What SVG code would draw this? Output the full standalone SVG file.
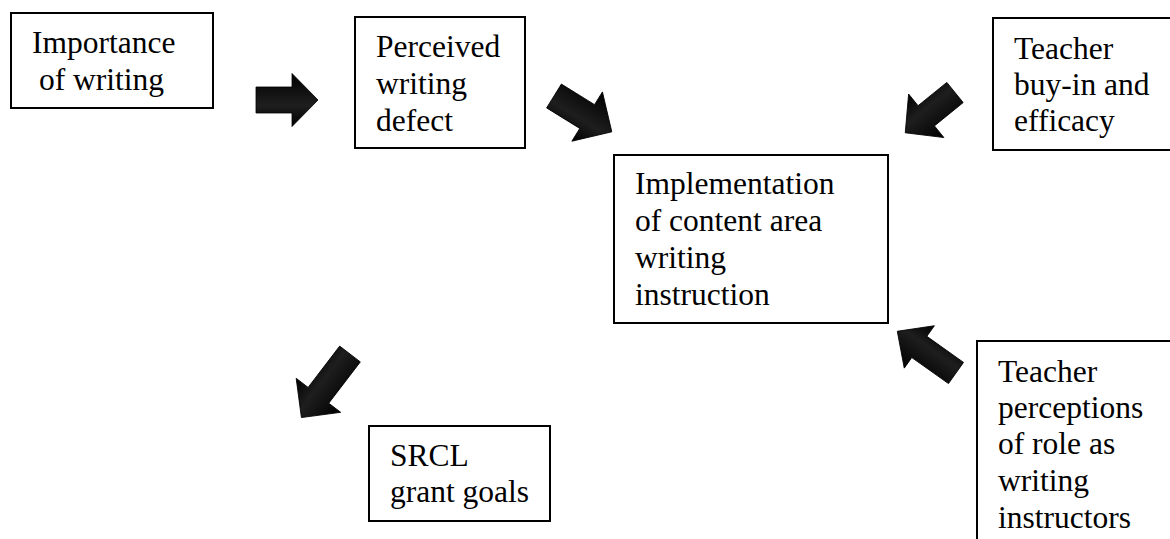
<svg xmlns="http://www.w3.org/2000/svg" width="1170" height="539" viewBox="0 0 1170 539">
<style>
.box{fill:#fff;stroke:#000;stroke-width:2}
.t{font-family:"Liberation Serif","Times New Roman",serif;font-size:31.5px;fill:#000}
.arr{fill:url(#g);stroke:#000;stroke-width:0.8}
</style>
<defs>
<linearGradient id="g" x1="0" y1="0" x2="0" y2="1">
<stop offset="0" stop-color="#000"/>
<stop offset="0.6" stop-color="#1e1e1e"/>
<stop offset="1" stop-color="#000"/>
</linearGradient>
</defs>
<rect width="1170" height="539" fill="#fff"/>
<g id="n-importance">
<rect class="box" x="11" y="13" width="202" height="95"/>
<text class="t" x="32" y="53">Importance</text>
<text class="t" x="39" y="90">of writing</text>
</g>
<g id="n-perceived">
<rect class="box" x="355" y="17" width="170" height="131"/>
<text class="t" x="376" y="57">Perceived</text>
<text class="t" x="376" y="94">writing</text>
<text class="t" x="376" y="131">defect</text>
</g>
<g id="n-implementation">
<rect class="box" x="614" y="155" width="274" height="168"/>
<text class="t" x="635" y="194">Implementation</text>
<text class="t" x="635" y="231">of content area</text>
<text class="t" x="635" y="268">writing</text>
<text class="t" x="635" y="305">instruction</text>
</g>
<g id="n-buyin">
<rect class="box" x="993" y="18" width="182" height="132"/>
<text class="t" x="1014" y="59">Teacher</text>
<text class="t" x="1014" y="95">buy-in and</text>
<text class="t" x="1014" y="131">efficacy</text>
</g>
<g id="n-perceptions">
<rect class="box" x="977" y="341" width="200" height="210"/>
<text class="t" x="998" y="382">Teacher</text>
<text class="t" x="998" y="418">perceptions</text>
<text class="t" x="998" y="454">of role as</text>
<text class="t" x="998" y="491">writing</text>
<text class="t" x="998" y="528">instructors</text>
</g>
<g id="n-srcl">
<rect class="box" x="369" y="426" width="181" height="95"/>
<text class="t" x="390" y="466">SRCL</text>
<text class="t" x="390" y="502">grant goals</text>
</g>
<g id="connectors">
<path class="arr" transform="translate(256,100)" d="M0,-13 L36,-13 L36,-26.5 L62,0 L36,26.5 L36,13 L0,13 Z"/>
<path class="arr" transform="translate(554,96) rotate(31.8)" d="M0,-14 L39,-14 L39,-29 L68,0 L39,29 L39,14 L0,14 Z"/>
<path class="arr" transform="translate(955,92.5) rotate(141)" d="M0,-13 L37,-13 L37,-28 L64,0 L37,28 L37,13 L0,13 Z"/>
<path class="arr" transform="translate(956,373) rotate(-144.6)" d="M0,-13 L45,-13 L45,-26 L72,0 L45,26 L45,13 L0,13 Z"/>
<path class="arr" transform="translate(350,354) rotate(127.4)" d="M0,-13 L52,-13 L52,-28 L80,0 L52,28 L52,13 L0,13 Z"/>
</g>
</svg>
